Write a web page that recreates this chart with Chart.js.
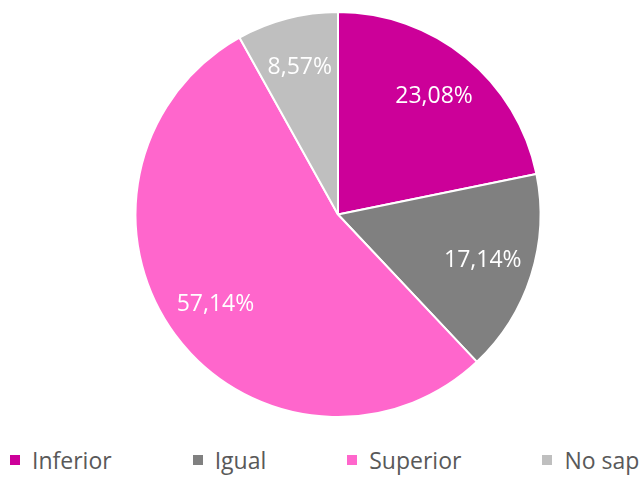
<!DOCTYPE html>
<html>
<head>
<meta charset="utf-8">
<script src="https://cdn.jsdelivr.net/npm/chart.js@4"></script>
<style>
  html, body { margin: 0; padding: 0; background: #fff; }
  body { width: 644px; height: 477px; overflow: hidden; position: relative; font-family: "Open Sans", sans-serif; }
  #wrap { position: absolute; left: 0; top: 0; width: 644px; height: 440px; }
  #legend { position: absolute; left: 10px; top: 444px; display: flex; white-space: nowrap; gap: 81px; font-size: 23px; color: #595959; }
  #legend .item { display: flex; align-items: center; }
  #legend .box { width: 10px; height: 10px; margin-right: 12px; }
</style>
</head>
<body>
<div id="wrap"><canvas id="chart"></canvas></div>
<div id="legend"></div>
<script>
// categories and values (percentages as shown on the slices)
const categories = ['Inferior', 'Igual', 'Superior', 'No sap'];
const values = [23.08, 17.14, 57.14, 8.57];
const colors = ['#CC0099', '#808080', '#FF66CC', '#BFBFBF'];

// white percentage labels inside each slice
const sliceLabels = {
  id: 'sliceLabels',
  afterDatasetsDraw(chart) {
    const ctx = chart.ctx;
    const meta = chart.getDatasetMeta(0);
    ctx.save();
    ctx.fillStyle = '#ffffff';
    ctx.font = '23px "Open Sans", sans-serif';
    ctx.textAlign = 'center';
    ctx.textBaseline = 'middle';
    meta.data.forEach((arc, i) => {
      const p = arc.getProps(['x', 'y', 'startAngle', 'endAngle', 'outerRadius'], true);
      const mid = (p.startAngle + p.endAngle) / 2;
      const r = p.outerRadius * 0.75;
      const txt = values[i].toFixed(2).replace('.', ',') + '%';
      ctx.fillText(txt, p.x + Math.cos(mid) * r, p.y + Math.sin(mid) * r);
    });
    ctx.restore();
  }
};

new Chart(document.getElementById('chart'), {
  type: 'pie',
  data: {
    labels: categories,
    datasets: [{
      data: values,
      backgroundColor: colors,
      borderColor: '#ffffff',
      borderWidth: 2
    }]
  },
  options: {
    responsive: true,
    maintainAspectRatio: false,
    animation: false,
    layout: { padding: { left: 32, top: 11, bottom: 22 } },
    plugins: {
      legend: { display: false },
      tooltip: { enabled: false }
    }
  },
  plugins: [sliceLabels]
});

// legend built from the same arrays
const legend = document.getElementById('legend');
categories.forEach((c, i) => {
  const item = document.createElement('div');
  item.className = 'item';
  const box = document.createElement('span');
  box.className = 'box';
  box.style.background = colors[i];
  const label = document.createElement('span');
  label.textContent = c;
  item.appendChild(box);
  item.appendChild(label);
  legend.appendChild(item);
});
</script>
</body>
</html>
